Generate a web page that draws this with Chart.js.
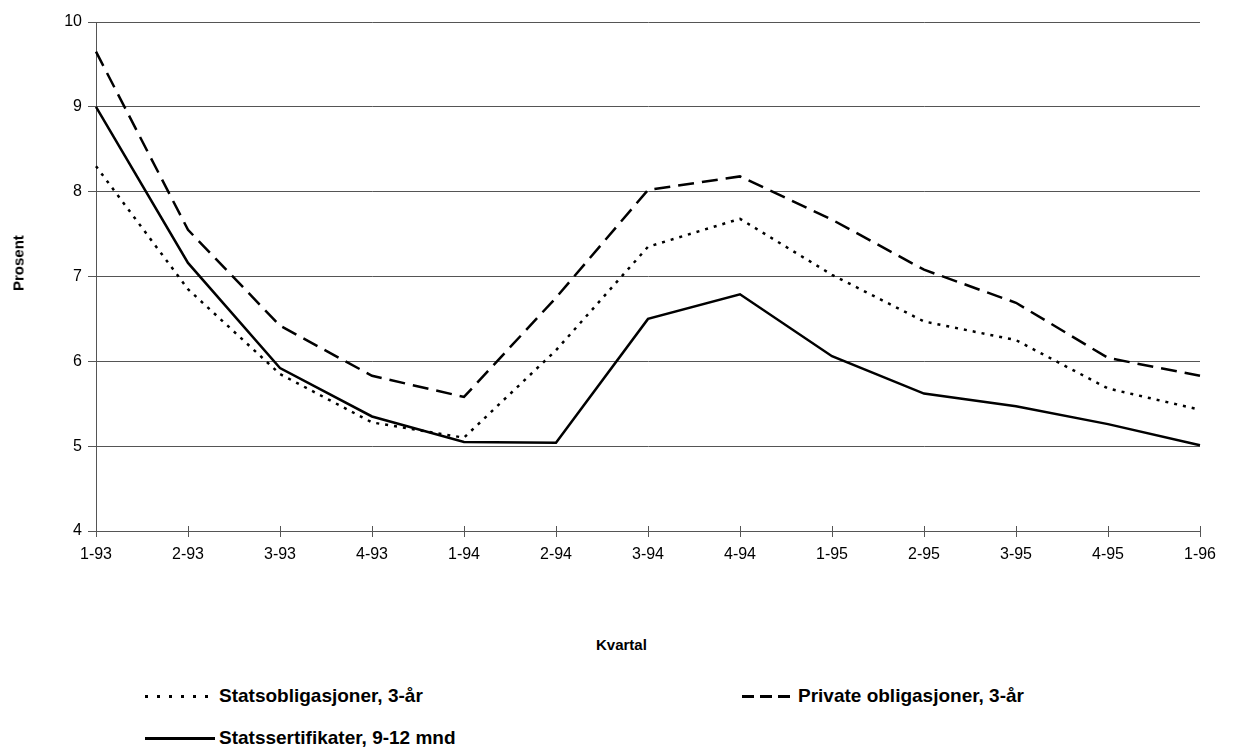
<!DOCTYPE html>
<html>
<head>
<meta charset="utf-8">
<script src="https://cdn.jsdelivr.net/npm/chart.js@4/dist/chart.umd.min.js"></script>
<style>
  body { margin: 0; background: #fff; font-family: "Liberation Sans", Arial, sans-serif; }
  #wrap { position: relative; width: 1233px; height: 755px; }
  #chart { position: absolute; left: 0; top: 0; }
  .lbl { position: absolute; font-weight: bold; color: #000; white-space: nowrap; }
  .leg { position: absolute; display: flex; align-items: center; font-weight: bold; font-size: 19px; }
  .leg .smp { height: 3px; margin-right: 4px; }
</style>
</head>
<body>
<div id="wrap">
  <canvas id="chart" width="1233" height="600"></canvas>
  <div class="lbl" style="left:4px; top:277px; font-size:15px; transform: translate(0,-50%) rotate(-90deg); transform-origin: 14px 50%;">Prosent</div>
  <div class="lbl" style="left:596px; top:636px; font-size:15px;">Kvartal</div>
  <div class="leg" style="left:145px; top:685px;"><span class="smp" style="width:70px; background: repeating-linear-gradient(90deg, #000 0 3px, transparent 3px 12px);"></span>Statsobligasjoner, 3-år</div>
  <div class="leg" style="left:742px; top:685px;"><span class="smp" style="width:50px; margin-right:6px; background: repeating-linear-gradient(90deg, #000 0 12px, transparent 12px 18px);"></span>Private obligasjoner, 3-år</div>
  <div class="leg" style="left:145px; top:727px;"><span class="smp" style="width:70px; background:#000;"></span>Statssertifikater, 9-12 mnd</div>
</div>
<script>
// quarters
const quarters = ['1-93', '2-93', '3-93', '4-93', '1-94', '2-94', '3-94', '4-94', '1-95', '2-95', '3-95', '4-95', '1-96'];

// interest rates, percent
const statsobligasjoner = [8.30, 6.85, 5.85, 5.28, 5.10, 6.13, 7.35, 7.68, 7.02, 6.47, 6.25, 5.68, 5.43];
const privateObligasjoner = [9.65, 7.55, 6.42, 5.83, 5.58, 6.75, 8.02, 8.18, 7.67, 7.08, 6.69, 6.04, 5.83];
const statssertifikater = [9.00, 7.16, 5.92, 5.35, 5.05, 5.04, 6.50, 6.79, 6.06, 5.62, 5.47, 5.26, 5.01];

const yTicks = [4, 5, 6, 7, 8, 9, 10];

const tickFont = { family: 'Liberation Sans', size: 16 };

// small tick marks above the x axis too (reference ticks cross the axis)
const crossTicks = {
  id: 'crossTicks',
  afterDraw(chart) {
    const x = chart.scales.x, ctx = chart.ctx, y0 = chart.chartArea.bottom;
    ctx.save();
    ctx.strokeStyle = '#555';
    ctx.lineWidth = 1;
    x.ticks.forEach((t, i) => {
      const px = Math.round(x.getPixelForTick(i)) + 0.5;
      ctx.beginPath();
      ctx.moveTo(px, y0 - 5);
      ctx.lineTo(px, y0);
      ctx.stroke();
    });
    ctx.restore();
  }
};

new Chart(document.getElementById('chart'), {
  type: 'line',
  data: {
    labels: quarters,
    datasets: [
      { label: 'Statsobligasjoner, 3-år', data: statsobligasjoner, borderColor: '#000', borderWidth: 2.5, borderDash: [3, 6], pointRadius: 0, tension: 0 },
      { label: 'Private obligasjoner, 3-år', data: privateObligasjoner, borderColor: '#000', borderWidth: 2.5, borderDash: [16, 8], pointRadius: 0, tension: 0 },
      { label: 'Statssertifikater, 9-12 mnd', data: statssertifikater, borderColor: '#000', borderWidth: 2.5, pointRadius: 0, tension: 0 }
    ]
  },
  options: {
    responsive: false,
    animation: false,
    layout: { padding: { top: 22, right: 33, left: 0, bottom: 0 } },
    plugins: { legend: { display: false }, tooltip: { enabled: false } },
    scales: {
      x: {
        offset: false,
        grid: { drawOnChartArea: false, color: '#555', tickLength: 6 },
        border: { color: '#555', width: 1 },
        ticks: { color: '#000', font: tickFont, padding: 8, maxRotation: 0 },
        afterFit: s => { s.height = 69; }
      },
      y: {
        min: yTicks[0],
        max: yTicks[yTicks.length - 1],
        afterBuildTicks: s => { s.ticks = yTicks.map(v => ({ value: v })); },
        grid: { color: '#555', lineWidth: 1, tickLength: 8 },
        border: { color: '#555', width: 1 },
        ticks: { color: '#000', font: tickFont, padding: 6 },
        afterFit: s => { s.width = 96; }
      }
    }
  },
  plugins: [crossTicks]
});
</script>
</body>
</html>
